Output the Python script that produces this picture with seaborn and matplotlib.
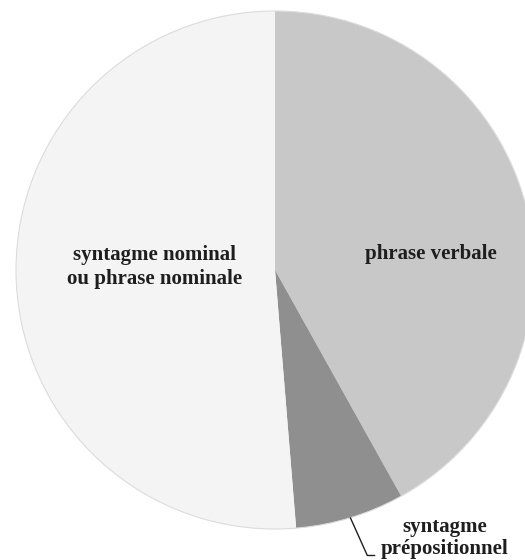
import numpy as np
import seaborn as sns
import matplotlib.pyplot as plt

# slice shares (percent), clockwise from 12 o'clock
labels = ["phrase verbale", "syntagme\nprépositionnel", "syntagme nominal\nou phrase nominale"]
shares = [41.9, 6.8, 51.3]
colors = ["#c8c8c8", "#8f8f8f", "#f4f4f4"]

sns.set_theme(style="white")
plt.rcParams["font.family"] = ["Liberation Serif", "DejaVu Serif"]

fig = plt.figure(figsize=(5.25, 5.6), dpi=100)
ax = fig.add_axes([0, 0, 1, 1])

wedges, _ = ax.pie(shares, colors=colors, startangle=90, counterclock=False,
                   radius=1.0, wedgeprops=dict(edgecolor="none", linewidth=0))
# faint outline round the whole pie
ax.add_patch(plt.Circle((0, 0), 1.0, fill=False, edgecolor="#dcdcdc", lw=0.8))

# pie of radius 259 px centred at pixel (275, 270)
r_px = 259.0
ax.set_xlim(-275 / r_px, (525 - 275) / r_px)
ax.set_ylim(-(560 - 270) / r_px, 270 / r_px)
ax.set_aspect("auto")
ax.axis("off")

font = dict(fontsize=15, fontweight="bold", color="#1e1e1e")

# labels inside the two big slices
ax.text(0.60, 0.062, labels[0], ha="center", va="center", **font)
ax.text(-0.465, 0.012, labels[2], ha="center", va="center", linespacing=1.3, **font)

# small slice: outside label with an elbow leader line
w = wedges[1]
mid = np.deg2rad((w.theta1 + w.theta2) / 2)
rim = (np.cos(mid) * 1.0, np.sin(mid) * 1.0)
ax.annotate(labels[1], xy=rim, xytext=(0.655, -1.035),
            ha="center", va="center", linespacing=1.1, **font,
            arrowprops=dict(arrowstyle="-", color="#1e1e1e", lw=1.0,
                            shrinkA=2, shrinkB=0, relpos=(0, 0.08),
                            connectionstyle="angle,angleA=0,angleB=-65.8,rad=0"))

plt.savefig("out.png", dpi=100)
